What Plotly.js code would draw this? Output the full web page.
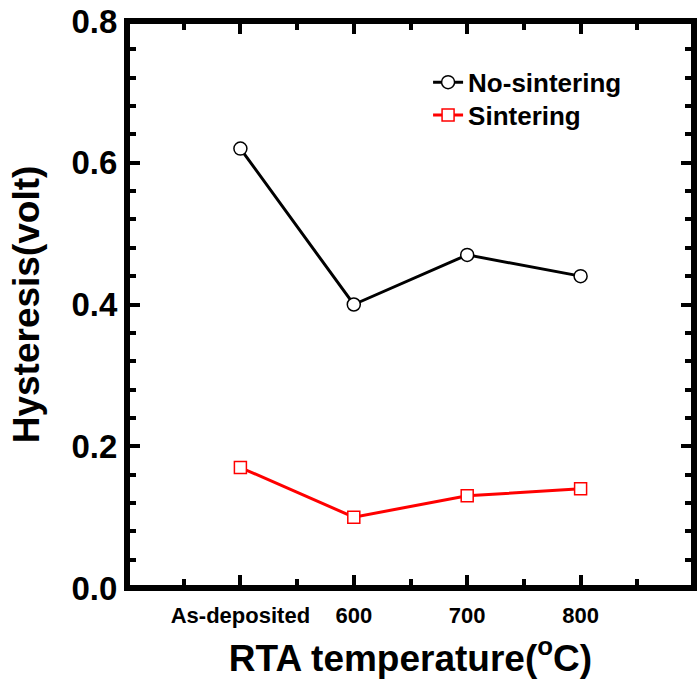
<!DOCTYPE html>
<html><head><meta charset="utf-8">
<script src="https://cdn.plot.ly/plotly-3.0.1.min.js"></script>
<style>html,body{margin:0;padding:0;background:#fff}</style>
</head><body>
<div id="chart" style="width:700px;height:686px"></div>
<script>
const categories = ['As-deposited', '600', '700', '800'];
const noSintering = [0.62, 0.40, 0.47, 0.44];
const sintering = [0.17, 0.10, 0.13, 0.14];
const yTickVals = [0.0, 0.2, 0.4, 0.6, 0.8];
const yTickText = ['0.0', '0.2', '0.4', '0.6', '0.8'];

const xPos = categories.map((c, i) => i);
const font = 'Liberation Sans, Arial, sans-serif';

const traces = [
  {x: xPos, y: noSintering, name: 'No-sintering', mode: 'lines+markers', legend: 'legend',
   line: {color: '#000', width: 3},
   marker: {symbol: 'circle', size: 13, color: '#fff', line: {color: '#000', width: 1.5}}},
  {x: xPos, y: sintering, name: 'Sintering', mode: 'lines+markers', legend: 'legend2',
   line: {color: '#ff0000', width: 3},
   marker: {symbol: 'square', size: 12, color: '#fff', line: {color: '#ff0000', width: 1.5}}}
];

const legFont = {family: font, size: 26, color: '#000', weight: 'bold'};
const layout = {
  width: 700, height: 686,
  margin: {l: 127, r: 6, t: 21, b: 98},
  paper_bgcolor: '#fff', plot_bgcolor: '#fff',
  font: {family: font, color: '#000'},
  showlegend: true,
  legend: {x: 0.531, y: 0.892, xanchor: 'left', yanchor: 'middle', bgcolor: 'rgba(0,0,0,0)', font: legFont},
  legend2: {x: 0.531, y: 0.834, xanchor: 'left', yanchor: 'middle', bgcolor: 'rgba(0,0,0,0)', font: legFont},
  shapes: [{type: 'rect', xref: 'paper', yref: 'paper', x0: 0, x1: 1, y0: 0, y1: 1,
            line: {color: '#000', width: 6}, fillcolor: 'rgba(0,0,0,0)', layer: 'above'}],
  xaxis: {
    range: [-1, 4], tickvals: xPos, ticktext: categories,
    ticks: 'inside', ticklen: 13, tickwidth: 4, tickcolor: '#000',
    minor: {dtick: 0.5, tick0: -0.5, ticks: 'inside', ticklen: 9, tickwidth: 4, tickcolor: '#000'},
    showline: true, linewidth: 1, linecolor: '#000', mirror: 'ticks',
    showgrid: false, zeroline: false, ticklabelstandoff: 8,
    tickfont: {family: font, size: 22, weight: 'bold', color: '#000'},
    title: {text: 'RTA temperature(<sup>o</sup>C)', font: {family: font, size: 37, weight: 'bold', color: '#000'}, standoff: 17}
  },
  yaxis: {
    range: [0, 0.8], tickvals: yTickVals, ticktext: yTickText,
    ticks: 'inside', ticklen: 13, tickwidth: 4, tickcolor: '#000',
    minor: {dtick: 0.04, tick0: 0, ticks: 'inside', ticklen: 9, tickwidth: 4, tickcolor: '#000'},
    showline: true, linewidth: 1, linecolor: '#000', mirror: 'ticks',
    showgrid: false, zeroline: false, ticklabelstandoff: 2,
    tickfont: {family: font, size: 33, weight: 'bold', color: '#000'},
    title: {text: 'Hysteresis(volt)', font: {family: font, size: 37, weight: 'bold', color: '#000'}, standoff: 20}
  }
};

Plotly.newPlot('chart', traces, layout, {displayModeBar: false, staticPlot: true});
</script>
</body></html>
